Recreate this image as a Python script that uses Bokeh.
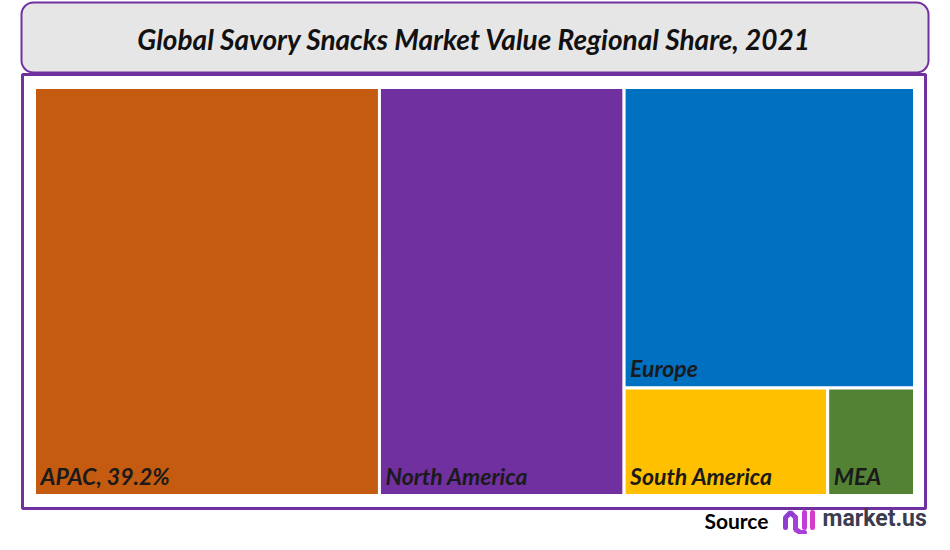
from bokeh.plotting import figure
from bokeh.models import Range1d, ColumnDataSource
from bokeh.core.properties import value
from bokeh.embed import file_html
from bokeh.resources import INLINE

# ---- data ----
regions = ["APAC", "North America", "Europe", "South America", "MEA"]
shares = [39.2, 27.8, 24.3, 6.1, 2.6]
colors = ["#C55A11", "#7030A0", "#0070C0", "#FFC000", "#548235"]
labels = ["APAC, 39.2%", "North America", "Europe", "South America", "MEA"]
title_text = "Global Savory Snacks Market Value Regional Share, 2021"

FONT = "Lato"


def worst(row, w):
    s = sum(row)
    return max(max(w * w * r / (s * s), (s * s) / (w * w * r)) for r in row)


def layout_row(row, x, y, dx, dy):
    s = sum(row)
    out = []
    if dx >= dy:  # vertical strip on the left
        width = s / dy
        cy = y
        for r in row:
            h = r / width
            out.append((x, cy, width, h))
            cy += h
        return out, (x + width, y, dx - width, dy)
    else:  # horizontal strip on top
        height = s / dx
        cx = x
        for r in row:
            w = r / height
            out.append((cx, y, w, height))
            cx += w
        return out, (x, y + height, dx, dy - height)


def squarify(vals, x, y, dx, dy):
    total = sum(vals)
    areas = [v * dx * dy / total for v in vals]
    rects = []
    rect = (x, y, dx, dy)
    i = 0
    while i < len(areas):
        row = [areas[i]]
        i += 1
        while i < len(areas):
            side = min(rect[2], rect[3])
            if worst(row + [areas[i]], side) <= worst(row, side):
                row.append(areas[i])
                i += 1
            else:
                break
        r, rect = layout_row(row, *rect)
        rects += r
    return rects


# treemap area (pixel coordinates, y downward)
X0, Y0, W, H = 34, 87, 880, 408
rects = squarify(shares, X0, Y0, W, H)

p = figure(width=934, height=534, output_backend="svg", toolbar_location=None,
           x_range=Range1d(0, 934), y_range=Range1d(534, 0),
           min_border=0)
p.axis.visible = False
p.grid.visible = False
p.outline_line_color = None
p.background_fill_color = "white"
p.border_fill_color = "white"

# title box
p.quad(left=21, right=928, top=2, bottom=72, fill_color="#E7E6E6",
       line_color="#7030A0", line_width=2, border_radius=12)
p.text(x=[474], y=[38], text=[title_text], text_font=value(FONT),
       text_font_style="bold italic", text_font_size="28px",
       text_color="#111111", text_align="center", text_baseline="middle")

# chart frame
p.quad(left=22, right=925, top=74, bottom=508, fill_color="white",
       line_color="#7030A0", line_width=3)

src = ColumnDataSource(dict(
    left=[r[0] for r in rects],
    right=[r[0] + r[2] for r in rects],
    top=[r[1] for r in rects],
    bottom=[r[1] + r[3] for r in rects],
    color=colors,
    lx=[r[0] + 6 for r in rects],
    ly=[r[1] + r[3] - 20 for r in rects],
    label=labels,
))
p.quad(left="left", right="right", top="top", bottom="bottom", source=src,
       fill_color="color", line_color="white", line_width=3)
p.text(x="lx", y="ly", text="label", source=src, text_font=value(FONT),
       text_font_style="bold italic", text_font_size="23px",
       text_color="#1a1a1a", text_align="left", text_baseline="alphabetic")

# source line
p.text(x=[768], y=[520], text=["Source"], text_font=value(FONT),
       text_font_style="bold", text_font_size="21px", text_color="black",
       text_align="right", text_baseline="alphabetic")
# logo mark
p.line(x=[785, 785, 790, 795, 795], y=[527, 517, 512, 517, 527],
       line_color="#8E3FD0", line_width=5, line_cap="round")
p.line(x=[795, 795, 800, 804], y=[517, 529, 532, 532],
       line_color="#A73FD8", line_width=5, line_cap="round")
p.line(x=[804, 804], y=[512, 527], line_color="#C23CD6", line_width=5,
       line_cap="round")
p.line(x=[812, 812], y=[512, 527], line_color="#D43BC9", line_width=5,
       line_cap="round")
p.text(x=[822], y=[518], text=["market.us"], text_font=value("Roboto"),
       text_font_style="bold", text_font_size="23px", text_color="#3C3C50",
       text_align="left", text_baseline="alphabetic")

open("out.html", "w").write(file_html(p, INLINE))
